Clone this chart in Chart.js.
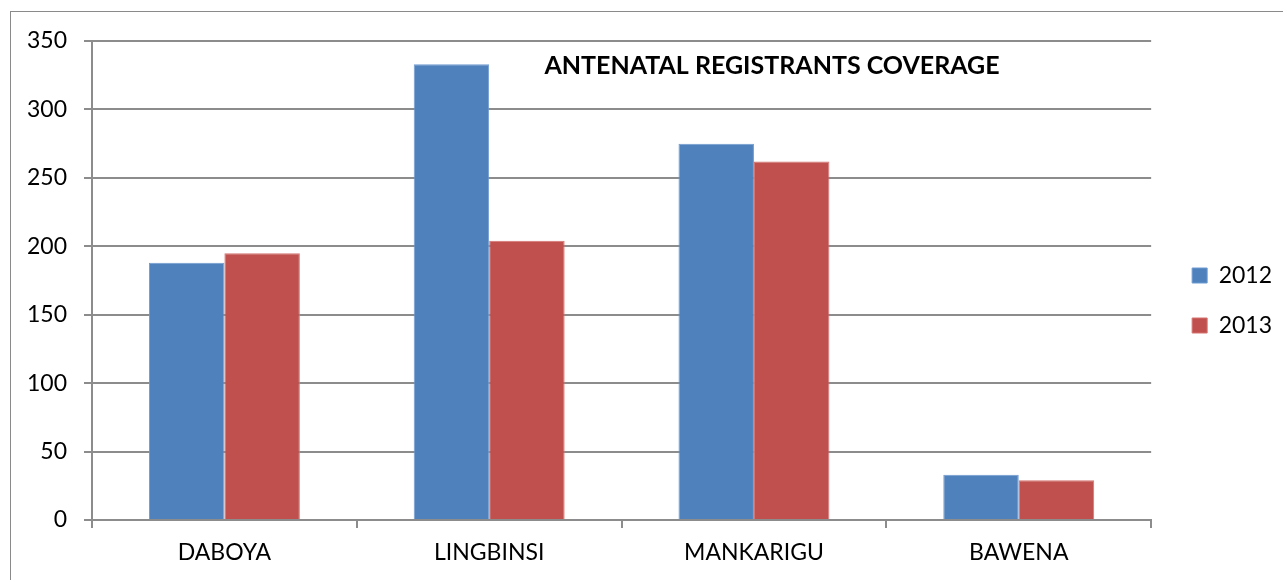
<!DOCTYPE html>
<html>
<head>
<meta charset="utf-8">
<script src="https://cdn.jsdelivr.net/npm/chart.js@4/dist/chart.umd.min.js"></script>
<style>
  html, body { margin: 0; padding: 0; background: #fff; }
  #wrap { position: relative; width: 1283px; height: 580px; overflow: hidden; }
  #frame { position: absolute; left: 10px; top: 11px; width: 1400px; height: 700px;
           border-left: 1px solid #8a8a8a; border-top: 1px solid #8a8a8a; }
  canvas { position: absolute; left: 0; top: 0; }
</style>
</head>
<body>
<div id="wrap">
  <div id="frame"></div>
  <canvas id="c" width="1283" height="580"></canvas>
</div>
<script>
const chartTitle = 'ANTENATAL REGISTRANTS COVERAGE';
const categories = ['DABOYA', 'LINGBINSI', 'MANKARIGU', 'BAWENA'];
const seriesNames = ['2012', '2013'];
const values2012 = [188, 333, 275, 33];
const values2013 = [195, 204, 262, 29];
const yTicks = [0, 50, 100, 150, 200, 250, 300, 350];

const FONT = 'Lato, "Open Sans", "Liberation Sans", sans-serif';
const GRID = '#8c8c8c';

const titlePlugin = {
  id: 'insideTitle',
  afterDraw(chart) {
    const { ctx, chartArea } = chart;
    ctx.save();
    ctx.font = 'bold 25px ' + FONT;
    ctx.fillStyle = '#000';
    ctx.textAlign = 'center';
    ctx.textBaseline = 'middle';
    ctx.fillText(chartTitle, chartArea.left + 680, chartArea.top + 25);
    ctx.restore();
  }
};

const legendShift = {
  id: 'legendShift',
  afterLayout(chart) {
    const lg = chart.legend;
    if (!lg) return;
    const dx = (chart.chartArea.right + 41) - (lg.left + 27);
    lg.left += dx; lg.right += dx;
    lg.top -= 10; lg.bottom -= 10;
  }
};

new Chart(document.getElementById('c'), {
  type: 'bar',
  data: {
    labels: categories,
    datasets: [
      { label: seriesNames[0], data: values2012, backgroundColor: '#4F81BD', borderColor: '#6f9bd1', borderWidth: 1 },
      { label: seriesNames[1], data: values2013, backgroundColor: '#C0504D', borderColor: '#d47370', borderWidth: 1 }
    ]
  },
  options: {
    responsive: false,
    animation: false,
    layout: { padding: { left: 0, top: 41, right: 15, bottom: 0 } },
    datasets: { bar: { barPercentage: 1.0, categoryPercentage: 0.57 } },
    plugins: {
      title: { display: false },
      tooltip: { enabled: false },
      legend: {
        position: 'right',
        align: 'center',
        labels: {
          boxWidth: 15, boxHeight: 15, padding: 27,
          color: '#000',
          font: { family: FONT, size: 23 }
        }
      }
    },
    scales: {
      x: {
        grid: { display: true, drawOnChartArea: false, drawTicks: true, tickLength: 8, color: GRID, lineWidth: 2, offset: true },
        border: { display: true, color: GRID, width: 2 },
        ticks: { color: '#000', font: { family: FONT, size: 23 }, padding: 11, maxRotation: 0 },
        afterFit(scale) { scale.height = 60; }
      },
      y: {
        min: 0, max: 350,
        afterBuildTicks(scale) { scale.ticks = yTicks.map(v => ({ value: v })); },
        grid: { color: GRID, lineWidth: 2, tickLength: 8, drawTicks: true },
        border: { display: true, color: GRID, width: 2 },
        ticks: { color: '#000', font: { family: FONT, size: 23 }, padding: 17 },
        afterFit(scale) { scale.width = 92; }
      }
    }
  },
  plugins: [titlePlugin, legendShift]
});
</script>
</body>
</html>
